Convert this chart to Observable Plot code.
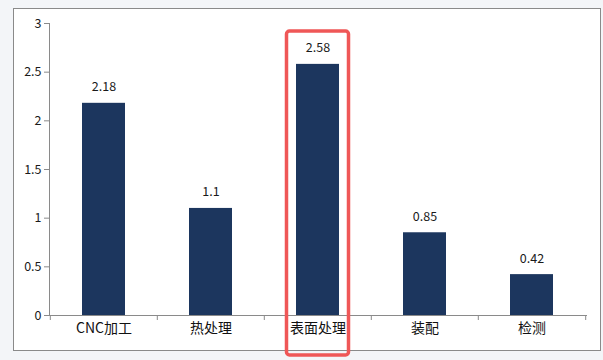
<!DOCTYPE html>
<html>
<head>
<meta charset="utf-8">
<script src="https://cdn.jsdelivr.net/npm/d3@7"></script>
<script src="https://cdn.jsdelivr.net/npm/@observablehq/plot@0.6"></script>
<style>
  html, body { margin: 0; padding: 0; background: #f3f5f8; }
  #wrap { position: relative; width: 603px; height: 360px; overflow: hidden; }
  #panel { position: absolute; left: 13px; top: 8px; width: 586px; height: 341px; background: #fff; border: 1px solid #8a8a8a; }
  #chart { position: absolute; left: 0; top: 0; }
</style>
</head>
<body>
<div id="wrap"><div id="panel"></div><div id="chart"></div></div>
<script>
const categories = ["CNC加工", "热处理", "表面处理", "装配", "检测"];
const values = [2.18, 1.1, 2.58, 0.85, 0.42];
const yTicks = [0, 0.5, 1, 1.5, 2, 2.5, 3];
const highlighted = ["表面处理"];

const data = categories.map((c, i) => ({category: c, value: values[i]}));

const W = 603, H = 360;
const mL = 49, mR = 17, mT = 23, mB = 45;
const pInner = 0.6, pOuter = 0.3;
const step = (W - mL - mR) / (categories.length - pInner + 2 * pOuter);
const font = "'Noto Sans CJK SC', 'Noto Sans', sans-serif";

const chart = Plot.plot({
  width: W,
  height: H,
  marginLeft: mL,
  marginRight: mR,
  marginTop: mT,
  marginBottom: mB,
  style: {background: "transparent", fontFamily: font, color: "#222"},
  x: {domain: categories, paddingInner: pInner, paddingOuter: pOuter, label: null},
  y: {domain: [0, 3], label: null},
  marks: [
    Plot.barY(data, {x: "category", y: "value", fill: "#1c365e"}),
    Plot.frame({anchor: "left", stroke: "#8a8a8a"}),
    Plot.frame({anchor: "bottom", stroke: "#8a8a8a"}),
    Plot.axisY({ticks: yTicks, tickSize: 5, tickPadding: 3, stroke: "#8a8a8a", fontSize: 12.5, fill: "#1a1a1a", tickFormat: d => String(d), label: null}),
    Plot.axisX({tickSize: 0, tickPadding: 8, fontSize: 14, fill: "#111", label: null}),
    Plot.axisX({tickSize: 5, text: null, dx: -step / 2, stroke: "#8a8a8a", label: null}),
    Plot.axisX(categories.slice(-1), {tickSize: 5, text: null, dx: step / 2, stroke: "#8a8a8a", label: null}),
    Plot.text(data, {x: "category", y: "value", text: d => String(d.value), dy: -16, fontSize: 12.5, fill: "#1a1a1a", lineAnchor: "middle"}),
    Plot.cell(highlighted, {x: d => d, fill: "none", stroke: "#ef5757", strokeWidth: 3.5, rx: 3,
      insetLeft: -9.5, insetRight: -9.5, insetTop: 8, insetBottom: -40})
  ]
});
document.getElementById("chart").appendChild(chart);
</script>
</body>
</html>
